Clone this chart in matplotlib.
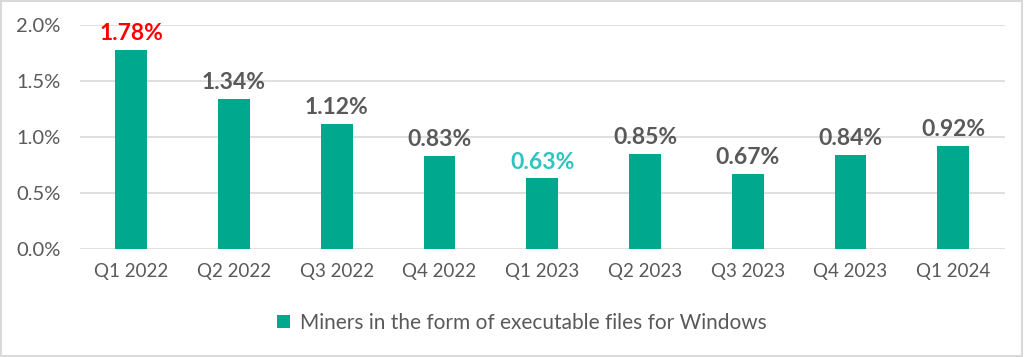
import matplotlib
matplotlib.use('Agg')
import matplotlib.pyplot as plt
from matplotlib.patches import Rectangle

plt.rcParams['font.family'] = ['Lato', 'DejaVu Sans']

quarters = ['Q1 2022', 'Q2 2022', 'Q3 2022', 'Q4 2022', 'Q1 2023',
            'Q2 2023', 'Q3 2023', 'Q4 2023', 'Q1 2024']
shares = [1.78, 1.34, 1.12, 0.83, 0.63, 0.85, 0.67, 0.84, 0.92]
label_colors = ['#FF0000', '#595959', '#595959', '#595959', '#2EC4C0',
                '#595959', '#595959', '#595959', '#595959']
series_name = 'Miners in the form of executable files for Windows'

bar_color = '#00A88E'
text_color = '#595959'
grid_color = '#D9D9D9'

fig = plt.figure(figsize=(10.24, 3.57), dpi=100)
ax = fig.add_axes([0.078, 0.3025, 0.903, 0.6275])

x = range(len(quarters))
ax.bar(x, shares, width=0.31, color=bar_color, label=series_name, zorder=3)

for i, v in enumerate(shares):
    ax.text(i, v + 0.05, f'{v:.2f}%', ha='center', va='bottom',
            fontsize=16.5, fontweight='bold', color=label_colors[i], zorder=4)

ax.set_ylim(0, 2.0)
ax.set_xlim(-0.5, len(quarters) - 0.5)
ax.set_yticks([0, 0.5, 1.0, 1.5, 2.0])
ax.set_yticklabels([f'{t:.1f}%' for t in [0, 0.5, 1.0, 1.5, 2.0]])
ax.set_xticks(list(x))
ax.set_xticklabels(quarters)
ax.tick_params(axis='x', length=0, labelsize=13.5, colors=text_color, pad=10)
ax.tick_params(axis='y', length=0, labelsize=14.5, colors=text_color, pad=14)
ax.grid(axis='y', color=grid_color, linewidth=1.2, zorder=0)
for s in ax.spines.values():
    s.set_visible(False)

fig.legend(loc='center', bbox_to_anchor=(0.51, 0.095), frameon=False,
           fontsize=15, labelcolor=text_color, handlelength=0.6,
           handleheight=0.6, handletextpad=0.5)

fig.patches.append(Rectangle((0.001, 0.002), 0.997, 0.995, transform=fig.transFigure,
                             fill=False, edgecolor='#D9D9D9', linewidth=1.5))

fig.savefig('out.png', dpi=100)
